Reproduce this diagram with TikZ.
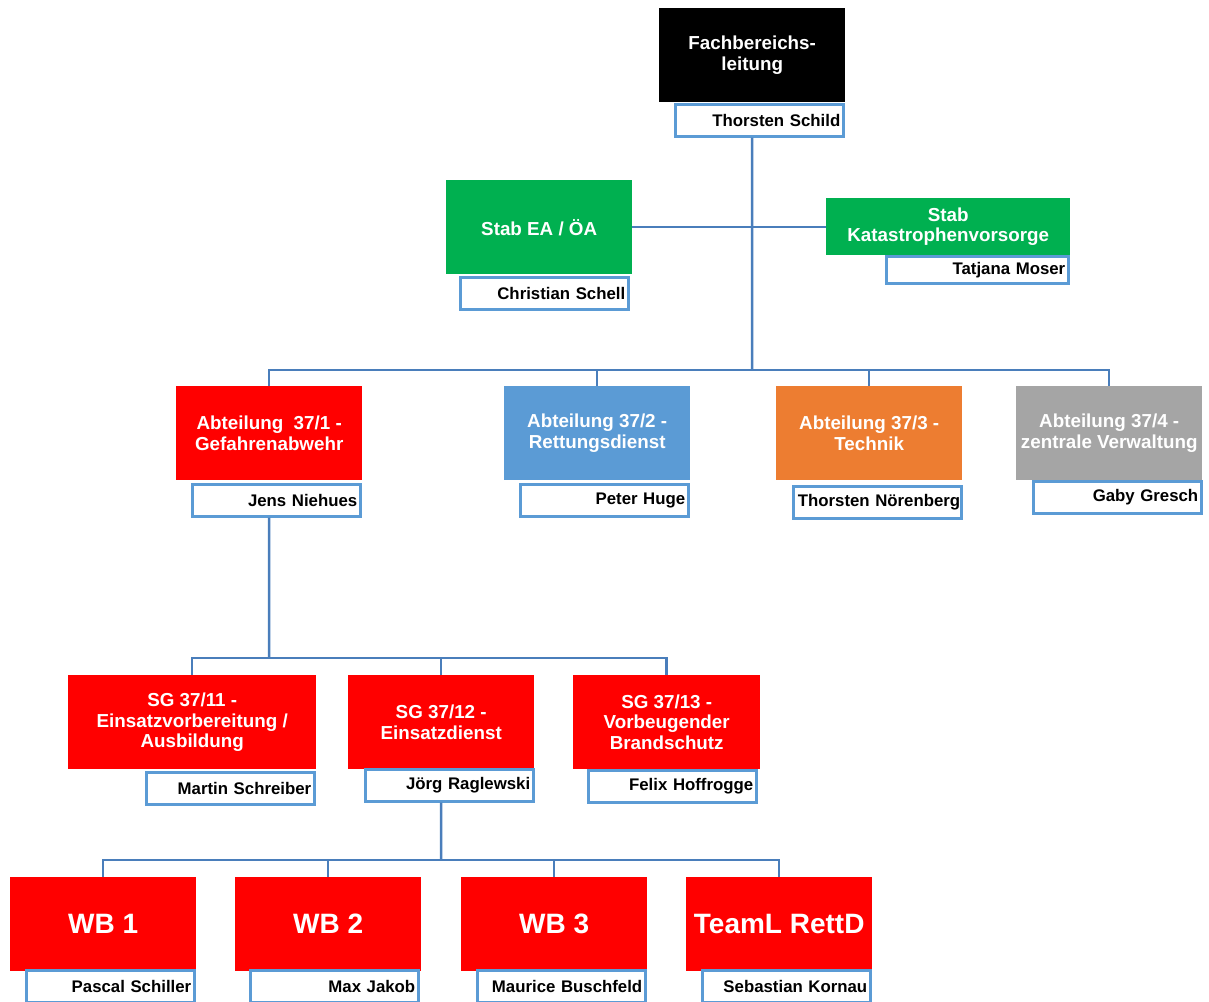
\documentclass[tikz,border=0pt]{standalone}
\usepackage{fontspec}
\setmainfont{Liberation Sans}
\usetikzlibrary{positioning}

\definecolor{linkblue}{HTML}{4A7EBB}
\definecolor{nameblue}{HTML}{5B9BD5}
\definecolor{fwred}{HTML}{FF0000}
\definecolor{stabgreen}{HTML}{00B050}
\definecolor{rdblue}{HTML}{5B9BD5}
\definecolor{techorange}{HTML}{ED7D31}
\definecolor{zvgray}{HTML}{A5A5A5}

\begin{document}
\begin{tikzpicture}[ x=1pt, y=-1pt,
      unit/.style={ minimum width=186pt, minimum height=94pt, inner sep=0pt, align=center,
        text=white, font=\fontsize{18.8}{20.5}\selectfont\bfseries, anchor=north west},
      wbunit/.style={ unit, fill=fwred, font=\fontsize{28}{32}\selectfont\bfseries},
      person/.style={ draw=nameblue, line width=2.5pt, fill=white, minimum height=32pt,
        inner xsep=3pt, inner ysep=0pt, text width=162pt, align=right,
        font=\fontsize{16.8}{18}\selectfont\bfseries, anchor=north west},
      link/.style={ draw=linkblue, line width=2.5pt}
      ]
      \useasboundingbox (0,0) rectangle (1209,1001);

      % leitung
      \node[unit, fill=black] (fbl) at (659,8) {Fachbereichs-\\leitung};
      \node[person] (ts) at (674,103) {Thorsten Schild};

      % stab
      \node[unit, fill=stabgreen] (stab1) at (446,180) {Stab EA / ÖA};
      \node[person] (cs) at (459,276) {Christian Schell};
      \node[unit, fill=stabgreen, minimum width=244pt, minimum height=57pt] (stab2) at (826,198) {Stab\\Katastrophenvorsorge};
      \node[person, text width=176pt, minimum height=27pt] (tm) at (885,255) {Tatjana Moser};

      % abteilungen
      \node[unit, fill=fwred] (abt1) at (176,386) {Abteilung\ \ 37/1 -\\Gefahrenabwehr};
      \node[person] (jn) at (191,483) {Jens Niehues};
      \node[unit, fill=rdblue] (abt2) at (504,386) {Abteilung 37/2 -\\Rettungsdienst};
      \node[person] (ph) at (519,483) {Peter Huge};
      \node[unit, fill=techorange] (abt3) at (776,386) {Abteilung 37/3 -\\Technik};
      \node[person, text width=166pt, inner xsep=1pt] (tn) at (792,485) {Thorsten Nörenberg};
      \node[unit, fill=zvgray] (abt4) at (1016,386) {Abteilung 37/4 -\\zentrale Verwaltung};
      \node[person] (gg) at (1032,480) {Gaby Gresch};

      % sachgebiete
      \node[unit, fill=fwred, minimum width=248pt] (sg11) at (68,675) {SG 37/11 -\\Einsatzvorbereitung /\\Ausbildung};
      \node[person] (ms) at (145,771) {Martin Schreiber};
      \node[unit, fill=fwred] (sg12) at (348,675) {SG 37/12 -\\Einsatzdienst};
      \node[person] (jr) at (364,768) {Jörg Raglewski};
      \node[unit, fill=fwred, minimum width=187pt] (sg13) at (573,675) {SG 37/13 -\\Vorbeugender\\Brandschutz};
      \node[person] (fh) at (587,769) {Felix Hoffrogge};

      % wachbereiche
      \node[wbunit] (wb1) at (10,877) {WB 1};
      \node[person] (psc) at (25,969) {Pascal Schiller};
      \node[wbunit] (wb2) at (235,877) {WB 2};
      \node[person] (mj) at (249,969) {Max Jakob};
      \node[wbunit] (wb3) at (461,877) {WB 3};
      \node[person] (mb) at (476,969) {Maurice Buschfeld};
      \node[wbunit] (teaml) at (686,877) {TeamL RettD};
      \node[person] (sk) at (701,969) {Sebastian Kornau};

      % connectors
      \coordinate (busA) at (752,370);
      \coordinate (busB) at (269,658);
      \coordinate (busC) at (441,860);
      \draw[link] (fbl.south |- ts.south) -- (busA);
      \draw[link] (stab1.east) -- (stab1.east -| stab2.west);
      \draw[link] (abt1.north) |- (abt4.north |- busA) -- (abt4.north);
      \draw[link] (abt2.north) -- (abt2.north |- busA);
      \draw[link] (abt3.north) -- (abt3.north |- busA);

      \draw[link] (abt1.south |- jn.south) -- (busB);
      \draw[link] (sg11.north) |- (sg13.north |- busB) -- (sg13.north);
      \draw[link] (sg12.north) -- (sg12.north |- busB);

      \draw[link] (sg12.south |- jr.south) -- (busC);
      \draw[link] (wb1.north) |- (teaml.north |- busC) -- (teaml.north);
      \draw[link] (wb2.north) -- (wb2.north |- busC);
      \draw[link] (wb3.north) -- (wb3.north |- busC);
    \end{tikzpicture}
\end{document}
